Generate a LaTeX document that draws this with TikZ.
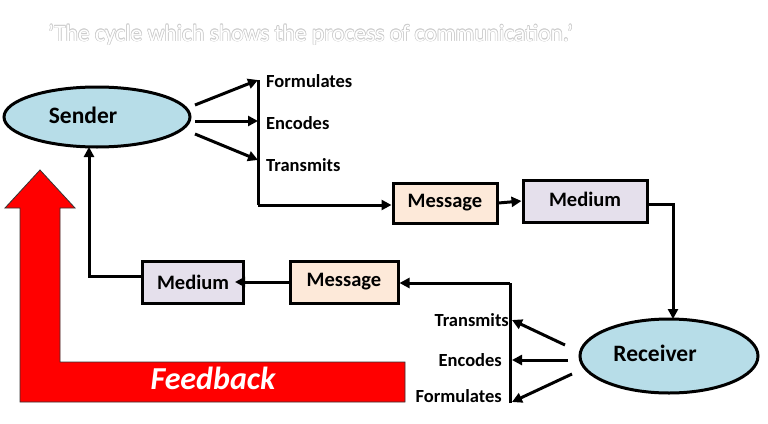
\documentclass[tikz,border=0pt]{standalone}
\usepackage{fontspec}
\setmainfont{Carlito}
\usetikzlibrary{arrows.meta}
\definecolor{ellblue}{HTML}{B7DDE8}
\definecolor{msgfill}{HTML}{FDE9D9}
\definecolor{medfill}{HTML}{E5E0EC}
\definecolor{fbred}{HTML}{FF0000}
\tikzset{
  bubble/.style={draw=black, line width=3pt, fill=ellblue},
  bubtxt/.style={font=\bfseries\fontsize{23.5}{26}\selectfont, inner sep=0pt},
  msgbox/.style={draw=black, line width=3pt, fill=msgfill, minimum width=104pt, minimum height=40pt, font=\bfseries\fontsize{20.5}{24}\selectfont, inner sep=0pt},
  medbox/.style={draw=black, line width=3pt, fill=medfill, minimum height=42pt, font=\bfseries\fontsize{20.5}{24}\selectfont, inner sep=0pt},
  lbl/.style={font=\bfseries\fontsize{18.5}{21}\selectfont, inner sep=0pt},
  conn/.style={line width=3pt, -{Triangle[length=10pt,width=10pt]}},
  line/.style={line width=3pt},
  ttl/.style={font=\fontsize{23.5}{27}\selectfont, inner sep=0pt},
}
\begin{document}
\begin{tikzpicture}[x=1pt,y=-1pt]
\useasboundingbox (0,0) rectangle (768,423);
\fill[white] (0,0) rectangle (768,423);
% title (white text with grey outline)
\foreach \dx/\dy in {-0.6/0,0.6/0,0/-0.6,0/0.6,-0.45/-0.45,0.45/0.45,-0.45/0.45,0.45/-0.45}
  \node[ttl, text=gray!40, anchor=west] at (48+\dx,35+\dy) {'The cycle which shows the process of communication.'};
\node[ttl, text=white, anchor=west] (title) at (48,35) {'The cycle which shows the process of communication.'};
% feedback arrow
\draw[fill=fbred, draw=black!80, line width=0.8pt] (40,170) -- (75,208) -- (60,208) -- (60,362) -- (405,362) -- (405,402) -- (20,402) -- (20,208) -- (5,208) -- cycle;
\node[text=white, font=\bfseries\itshape\fontsize{32}{36}\selectfont, inner sep=0pt] (fb) at (213,378) {Feedback};
% sender
\path[bubble] (97,117) ellipse [x radius=93, y radius=30];
\node[bubtxt] (sendtxt) at (83,115) {Sender};
% receiver
\path[bubble] (669,356) ellipse [x radius=89, y radius=37];
\node[bubtxt] (rectxt) at (655,353) {Receiver};
% labels upper
\node[lbl, anchor=west] (f1) at (266,81) {Formulates};
\node[lbl, anchor=west] (e1) at (266,123) {Encodes};
\node[lbl, anchor=west] (t1) at (266,165) {Transmits};
% boxes
\node[msgbox] (msg1) at (445,203) {Message};
\node[medbox, minimum width=124pt] (med1) at (585,201) {\raisebox{3pt}{Medium}};
\node[msgbox, minimum width=108pt, minimum height=42pt] (msg2) at (344,282) {Message};
\node[medbox, minimum width=101pt] (med2) at (193,282) {Medium};
% lower labels
\node[lbl, anchor=east] (t2) at (509,320) {Transmits};
\node[lbl, anchor=east] (e2) at (502,360) {Encodes};
\node[lbl, anchor=east] (f2) at (502,396) {Formulates};
% coordinates
\coordinate (s1) at (195,105);
\coordinate (s2) at (195,121);
\coordinate (s3) at (195,134);
\coordinate (v1top) at (258,80);
\coordinate (v1mid) at (258,121);
\coordinate (v1low) at (258,160);
\coordinate (v1bot) at (258,205);
\draw[conn] (s1) -- (v1top);
\draw[conn] (s2) -- (v1mid);
\draw[conn] (s3) -- (v1low);
\draw[line] (v1top) -- (v1bot);
\draw[conn] (v1bot) -- (msg1.west |- v1bot);
\draw[conn] (msg1.east) -- (med1.west);
\coordinate (mc) at (673,204);
\draw[conn] (med1.east |- mc) -- (mc) -- (673,319);
% receiver outputs
\coordinate (r1) at (565,345);
\coordinate (r2) at (568,360);
\coordinate (r3) at (572,374);
\coordinate (v2top) at (510,283);
\coordinate (v2a) at (512,320);
\coordinate (v2b) at (512,360);
\coordinate (v2c) at (512,402);
\coordinate (v2bot) at (510,403);
\draw[conn] (r1) -- (v2a);
\draw[conn] (r2) -- (v2b);
\draw[conn] (r3) -- (v2c);
\draw[line] (v2bot) -- (v2top);
\draw[conn] (v2top) -- (msg2.east |- v2top);
\draw[conn] (msg2.west) -- ([xshift=-10pt]med2.east);
\coordinate (lc) at (89,276);
\draw[conn] (med2.west |- lc) -- (lc) -- (89,147);
\end{tikzpicture}
\end{document}
